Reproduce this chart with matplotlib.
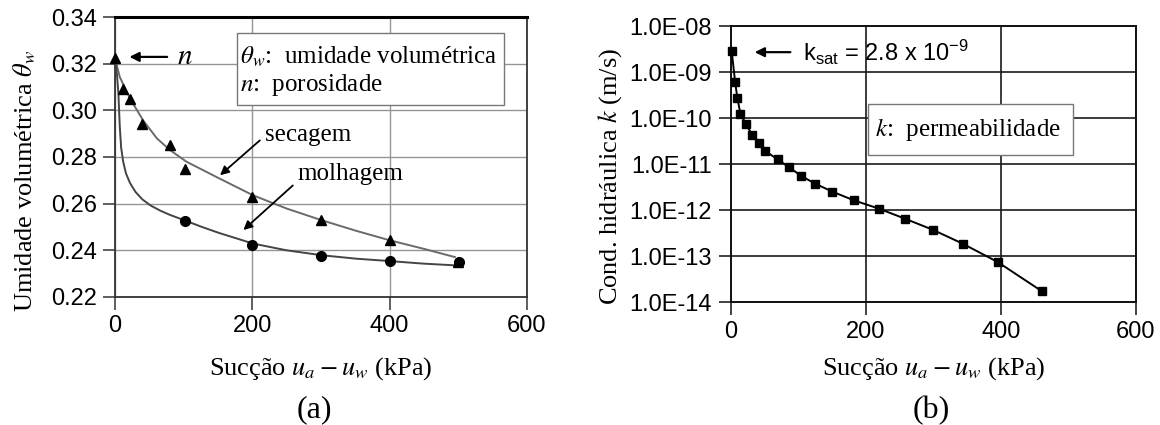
import matplotlib
matplotlib.use("Agg")
import matplotlib.pyplot as plt
from matplotlib.patches import Rectangle

plt.rcParams['font.family'] = ['Liberation Serif', 'DejaVu Serif']
plt.rcParams['mathtext.fontset'] = 'stix'
# custom math set only used for the k_sat label (sans like the tick labels)
plt.rcParams['mathtext.rm'] = 'Liberation Sans'
plt.rcParams['mathtext.it'] = 'Liberation Sans:italic'
plt.rcParams['mathtext.bf'] = 'Liberation Sans:bold'

# --- (a) curva de retencao ---
dry_x = [0, 11, 22, 40, 80, 102, 200, 300, 401, 500]
dry_y = [0.3224, 0.3093, 0.3050, 0.2943, 0.2853, 0.2747, 0.2629, 0.2529, 0.2446, 0.2350]
wet_x = [102, 200, 300, 400, 501]
wet_y = [0.2526, 0.2424, 0.2376, 0.2354, 0.2350]

# fitted curves
dry_fit_x = [0, 7, 22, 41, 61, 80, 104, 148, 201, 250, 301, 352, 400, 449, 495]
dry_fit_y = [0.3224, 0.3143, 0.3050, 0.2957, 0.2880, 0.2830, 0.2780, 0.2714, 0.2636,
             0.2579, 0.2529, 0.2483, 0.2443, 0.2407, 0.2371]
wet_fit_x = [0, 3, 5, 7, 9, 12, 16, 22, 30, 40, 52, 66, 80, 100, 125, 150, 201, 250,
             301, 352, 400, 449, 493]
wet_fit_y = [0.3224, 0.3150, 0.3074, 0.2931, 0.2840, 0.2780, 0.2730, 0.2688, 0.2650,
             0.2618, 0.2592, 0.2570, 0.2552, 0.2530, 0.2502, 0.2476, 0.2429, 0.2400,
             0.2379, 0.2364, 0.2354, 0.2343, 0.2336]

# --- (b) condutividade hidraulica ---
k_x = [1, 6, 9.4, 14, 22, 31, 42, 51, 69, 86, 104, 125, 150, 182, 219, 258, 299, 343, 395, 461]
k_log = [-8.55, -9.21, -9.57, -9.91, -10.13, -10.36, -10.54, -10.72, -10.90, -11.07,
         -11.26, -11.43, -11.60, -11.79, -11.97, -12.19, -12.43, -12.73, -13.13, -13.77]
k_vals = [10 ** v for v in k_log]
k_ticks = [1e-14, 1e-13, 1e-12, 1e-11, 1e-10, 1e-9, 1e-8]
k_ticklabels = ['1.0E-14', '1.0E-13', '1.0E-12', '1.0E-11', '1.0E-10', '1.0E-09', '1.0E-08']

x_ticks = [0, 200, 400, 600]
theta_ticks = [0.22, 0.24, 0.26, 0.28, 0.30, 0.32, 0.34]

fig = plt.figure(figsize=(11.6, 4.25), dpi=100)
ax1 = fig.add_axes([0.0991, 0.3012, 0.3552, 0.6588])
ax2 = fig.add_axes([0.6302, 0.2894, 0.3491, 0.6494])

tick_font = dict(family='Liberation Sans', size=17)
lab_size = 19
txt_size = 18

###panel a
ax1.plot(dry_fit_x, dry_fit_y, color='#6a6a6a', lw=1.4, zorder=3)
ax1.plot(wet_fit_x, wet_fit_y, color='#444444', lw=1.4, zorder=3)
ax1.plot(dry_x, dry_y, '^', color='black', ms=7, zorder=4, clip_on=False)
ax1.plot(wet_x, wet_y, 'o', color='black', ms=7, zorder=4, clip_on=False)
ax1.set_xlim(0, 600)
ax1.set_ylim(0.22, 0.34)
ax1.set_xticks(x_ticks)
ax1.set_yticks(theta_ticks)
ax1.set_xticklabels([str(v) for v in x_ticks], **tick_font)
ax1.set_yticklabels(['%.2f' % v for v in theta_ticks], **tick_font)
ax1.grid(True, color='#959595', lw=1.0)
ax1.set_axisbelow(True)
ax1.tick_params(direction='out', length=9, width=1.2, color='#444444', pad=4)
for s in ['left', 'bottom', 'right']:
    ax1.spines[s].set_color('#333333')
    ax1.spines[s].set_linewidth(1.3)
ax1.spines['top'].set_linewidth(2.2)
ax1.spines['top'].set_color('black')
ax1.set_xlabel(r'Sucção $u_a - u_w$ (kPa)', fontsize=lab_size)
ax1.set_ylabel(r'Umidade volumétrica $\theta_w$', fontsize=lab_size)
ax1.xaxis.set_label_coords(0.5, -0.207)
ax1.yaxis.set_label_coords(-0.187, 0.415)

ax1.annotate('', xy=(17, 0.3229), xytext=(80, 0.3229),
             arrowprops=dict(arrowstyle='-|>', color='black', lw=1.6, mutation_scale=14))
ax1.text(90, 0.3229, r'$n$', fontsize=21, va='center', ha='left')
ax1.annotate('', xy=(150, 0.2714), xytext=(214, 0.2879),
             arrowprops=dict(arrowstyle='-|>', color='black', lw=1.3, mutation_scale=13))
ax1.text(218, 0.2893, 'secagem', fontsize=txt_size, va='center', ha='left')
ax1.annotate('', xy=(184, 0.2479), xytext=(262, 0.2686),
             arrowprops=dict(arrowstyle='-|>', color='black', lw=1.3, mutation_scale=13))
ax1.text(266, 0.2729, 'molhagem', fontsize=txt_size, va='center', ha='left')

ax1.add_patch(Rectangle((0.296, 0.686), 0.648, 0.257, transform=ax1.transAxes,
                        facecolor='white', edgecolor='#777777', lw=1.0, zorder=5))
ax1.text(0.303, 0.857, r'$\theta_w$:  umidade volumétrica', transform=ax1.transAxes,
         fontsize=txt_size, va='center', ha='left', zorder=6)
ax1.text(0.303, 0.757, r'$n$:  porosidade', transform=ax1.transAxes,
         fontsize=txt_size, va='center', ha='left', zorder=6)

###panel b
ax2.semilogy(k_x, k_vals, '-s', color='black', lw=1.4, ms=5.5, zorder=4, clip_on=False)
ax2.set_xlim(0, 600)
ax2.set_ylim(1e-14, 1e-8)
ax2.set_xticks(x_ticks)
ax2.set_yticks(k_ticks)
ax2.yaxis.set_minor_locator(matplotlib.ticker.NullLocator())
ax2.set_xticklabels([str(v) for v in x_ticks], **tick_font)
ax2.set_yticklabels(k_ticklabels, **tick_font)
ax2.grid(True, color='#1a1a1a', lw=1.2)
ax2.set_axisbelow(True)
ax2.tick_params(direction='out', length=9, width=1.2, color='#222222', pad=5)
for s in ax2.spines.values():
    s.set_color('#111111')
    s.set_linewidth(1.4)
ax2.set_xlabel(r'Sucção $u_a - u_w$ (kPa)', fontsize=lab_size)
ax2.set_ylabel(r'Cond. hidráulica $k$ (m/s)', fontsize=lab_size)
ax2.xaxis.set_label_coords(0.5, -0.192)
ax2.yaxis.set_label_coords(-0.264, 0.455)

ax2.annotate('', xy=(31, 2.7e-9), xytext=(92, 2.7e-9),
             arrowprops=dict(arrowstyle='-|>', color='black', lw=1.6, mutation_scale=14))
ax2.text(106, 2.7e-9, r'k$_{\mathrm{sat}}$ = 2.8 x 10$^{\mathrm{-9}}$', family='Liberation Sans',
         math_fontfamily='custom', fontsize=17, va='center', ha='left')

ax2.add_patch(Rectangle((0.338, 0.533), 0.506, 0.184, transform=ax2.transAxes,
                        facecolor='white', edgecolor='#777777', lw=1.0, zorder=5))
ax2.text(0.355, 0.625, r'$k$:  permeabilidade', transform=ax2.transAxes,
         fontsize=txt_size, va='center', ha='left', zorder=6)

fig.text(0.271, 0.035, '(a)', fontsize=23, ha='center', va='center')
fig.text(0.803, 0.035, '(b)', fontsize=23, ha='center', va='center')

fig.savefig('out.png', dpi=100)
